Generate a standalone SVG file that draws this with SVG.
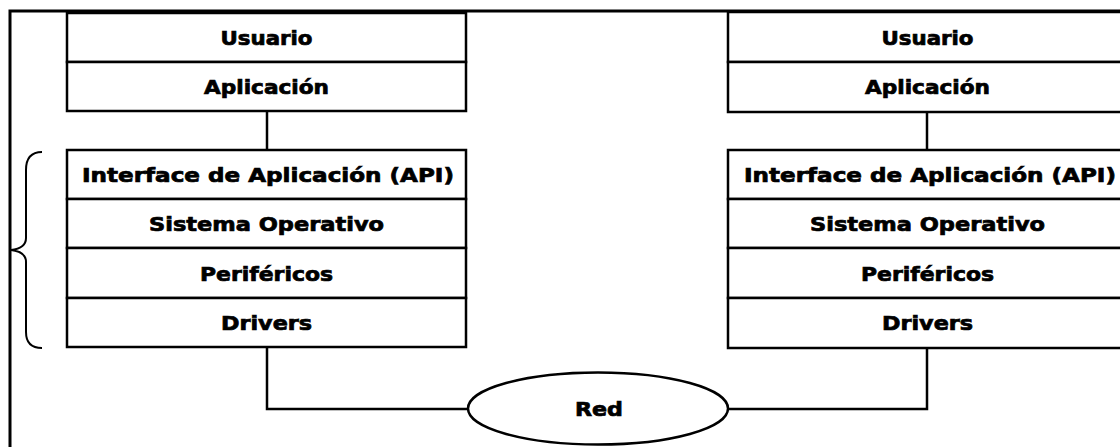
<svg xmlns="http://www.w3.org/2000/svg" width="1120" height="447" viewBox="0 0 1120 447">
<style>
.box{fill:#fff;stroke:#000;stroke-width:2.5}
.ln{fill:none;stroke:#000;stroke-width:2.5}
.t{font-family:"DejaVu Sans","Liberation Sans",sans-serif;font-weight:bold;font-size:19px;fill:#000;stroke:#000;stroke-width:0.7;text-anchor:middle}
</style>
<rect width="1120" height="447" fill="#fff"/>
<path d="M10,447 L10,11 L1120,11" fill="none" stroke="#000" stroke-width="3"/>
<g id="connectors">
<path class="ln" d="M267,111 L267,150"/>
<path class="ln" d="M927,112 L927,150"/>
<path class="ln" d="M267,347 L267,409 L468,409"/>
<path class="ln" d="M728,409 L927,409 L927,348"/>
</g>
<g id="brace">
<path d="M42,152 C31,152 26,158 26,170 L26,238 C26,245 20,249 11,250 C20,251 26,255 26,262 L26,332 C26,342 31,348 42,348" fill="none" stroke="#000" stroke-width="2"/>
</g>
<g id="left-usuario"><rect class="box" x="67" y="13" width="399" height="49"/><text class="t" x="266.5" y="45" textLength="92" lengthAdjust="spacingAndGlyphs">Usuario</text></g>
<g id="left-aplicacion"><rect class="box" x="67" y="62" width="399" height="49"/><text class="t" x="266.5" y="94" textLength="125" lengthAdjust="spacingAndGlyphs">Aplicación</text></g>
<g id="left-api"><rect class="box" x="67" y="150" width="399" height="49"/><text class="t" x="268" y="182" textLength="372" lengthAdjust="spacingAndGlyphs">Interface de Aplicación (API)</text></g>
<g id="left-so"><rect class="box" x="67" y="199" width="399" height="49"/><text class="t" x="266.5" y="231" textLength="235" lengthAdjust="spacingAndGlyphs">Sistema Operativo</text></g>
<g id="left-perifericos"><rect class="box" x="67" y="248" width="399" height="50"/><text class="t" x="266.5" y="281" textLength="133" lengthAdjust="spacingAndGlyphs">Periféricos</text></g>
<g id="left-drivers"><rect class="box" x="67" y="298" width="399" height="49"/><text class="t" x="266.5" y="330" textLength="91" lengthAdjust="spacingAndGlyphs">Drivers</text></g>
<g id="right-usuario"><rect class="box" x="728" y="12" width="399" height="50"/><text class="t" x="927.5" y="45" textLength="92" lengthAdjust="spacingAndGlyphs">Usuario</text></g>
<g id="right-aplicacion"><rect class="box" x="728" y="62" width="399" height="50"/><text class="t" x="927.5" y="94" textLength="125" lengthAdjust="spacingAndGlyphs">Aplicación</text></g>
<g id="right-api"><rect class="box" x="728" y="150" width="399" height="49"/><text class="t" x="930" y="182" textLength="372" lengthAdjust="spacingAndGlyphs">Interface de Aplicación (API)</text></g>
<g id="right-so"><rect class="box" x="728" y="199" width="399" height="49"/><text class="t" x="927.5" y="231" textLength="235" lengthAdjust="spacingAndGlyphs">Sistema Operativo</text></g>
<g id="right-perifericos"><rect class="box" x="728" y="248" width="399" height="50"/><text class="t" x="927.5" y="281" textLength="133" lengthAdjust="spacingAndGlyphs">Periféricos</text></g>
<g id="right-drivers"><rect class="box" x="728" y="298" width="399" height="50"/><text class="t" x="927.5" y="330" textLength="91" lengthAdjust="spacingAndGlyphs">Drivers</text></g>
<g id="red"><ellipse cx="598" cy="408.5" rx="130" ry="36" fill="#fff" stroke="#000" stroke-width="2.5"/><text class="t" x="599" y="416" textLength="48" lengthAdjust="spacingAndGlyphs">Red</text></g>
</svg>
